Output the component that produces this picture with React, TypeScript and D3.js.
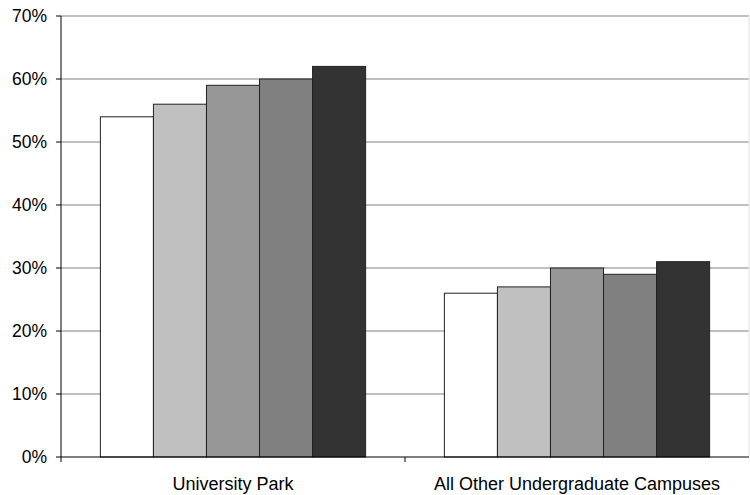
import React from "react";
import * as d3 from "d3";

const categories = ["University Park", "All Other Undergraduate Campuses"];
const seriesNames = ["S1", "S2", "S3", "S4", "S5"];
const seriesColors = ["#ffffff", "#c0c0c0", "#969696", "#808080", "#333333"];
const universityPark = [54, 56, 59, 60, 62];
const otherCampuses = [26, 27, 30, 29, 31];
const yTicks = [0, 10, 20, 30, 40, 50, 60, 70];

const values = [universityPark, otherCampuses];

export default function App() {
  const W = 750, H = 495;
  const left = 61, right = 749, top = 16, bottom = 457;
  const x0 = d3.scaleBand().domain(categories).range([left, right]).paddingInner(0).paddingOuter(0);
  const y = d3.scaleLinear().domain([0, 70]).range([bottom, top]);
  const inner = d3.scaleBand().domain(seriesNames).range([0, x0.bandwidth() * 0.771]);
  const offset = (x0.bandwidth() - x0.bandwidth() * 0.771) / 2;

  return (
    <svg width={W} height={H} style={{ position: "absolute", left: 0, top: 0, fontFamily: "'Liberation Sans', Arial, sans-serif" }}>
      <rect x={0} y={0} width={W} height={H} fill="#fff" />
      {yTicks.map((t) => (
        <g key={t}>
          {t > 0 && <line x1={left} x2={right} y1={y(t)} y2={y(t)} stroke="#808080" strokeWidth={1} />}
          <line x1={left - 5} x2={left} y1={y(t)} y2={y(t)} stroke="#000" strokeWidth={1} />
          <text x={47} y={y(t)} dy="0.35em" textAnchor="end" fontSize={17.5} fill="#000">{t}%</text>
        </g>
      ))}
      <line x1={right} x2={right} y1={top} y2={bottom} stroke="#e0e0e0" strokeWidth={1} />
      {categories.map((c, ci) => (
        <g key={c}>
          {values[ci].map((v, si) => (
            <rect
              key={si}
              x={(x0(c) as number) + offset + (inner(seriesNames[si]) as number)}
              y={y(v)}
              width={inner.bandwidth()}
              height={bottom - y(v)}
              fill={seriesColors[si]}
              stroke="#222"
              strokeWidth={1}
            />
          ))}
          <text x={(x0(c) as number) + x0.bandwidth() / 2} y={490} textAnchor="middle" fontSize={18} fill="#000">{c}</text>
        </g>
      ))}
      <line x1={left} x2={left} y1={top} y2={bottom + 5} stroke="#000" strokeWidth={1} />
      <line x1={left} x2={right} y1={bottom} y2={bottom} stroke="#000" strokeWidth={1} />
      {categories.slice(1).map((c) => (
        <line key={c} x1={x0(c) as number} x2={x0(c) as number} y1={bottom} y2={bottom + 5} stroke="#000" strokeWidth={1} />
      ))}
    </svg>
  );
}
